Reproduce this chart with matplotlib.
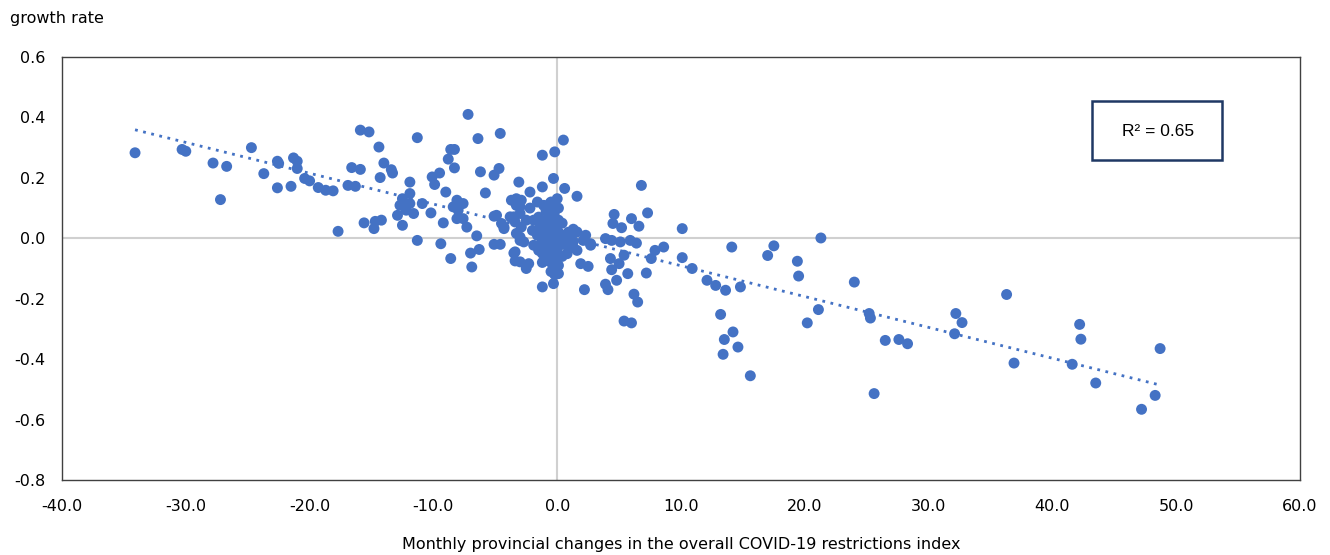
import numpy as np
import matplotlib
matplotlib.use('Agg')
import matplotlib.pyplot as plt
from matplotlib.patches import Rectangle

# monthly provincial changes in restrictions index (x) and growth rate (y)
x_vals = [
    -34.1, -30.3, -30.0, -27.8, -26.7, -27.2, -24.7, -23.7, -22.6, -22.5,
    -22.6, -21.5, -21.3, -21.0, -21.0, -20.4, -20.0, -19.3, -18.7, -18.1,
    -17.7, -16.9, -16.6, -16.3, -15.9, -15.9, -15.2, -14.4, -14.3, -14.0,
    -13.4, -13.3, -15.6, -14.7, -14.2, -14.8, -11.3, -11.9, -11.9, -12.5,
    -12.7, -11.6, -11.9, -12.2, -10.9, -10.2, -12.9, -12.5, -11.3, -9.4,
    -8.6, -7.2, -6.4, -4.6, -8.6, -8.3, -8.8, -8.3, -10.1, -9.5,
    -9.9, -9.0, -8.1, -7.6, -8.4, -8.0, -8.1, -7.6, -7.3, -9.2,
    -6.5, -7.0, -6.3, -6.9, -6.2, -5.1, -4.7, -5.8, -5.1, -4.9,
    -4.3, -5.1, -4.6, -3.7, -3.3, -3.0, -3.1, -2.2, -1.2, -0.2,
    -0.3, -1.2, -3.8, -3.4, -2.9, -3.3, -3.5, -3.4, -2.3, -1.2,
    0.5, 0.6, 1.6, 6.8, 4.6, 6.0, 6.6, 4.5, 5.2, 7.3,
    10.1, 3.9, 4.4, 5.1, 5.9, 6.4, 2.7, 2.1, 7.9, 8.6,
    7.6, 10.1, 10.9, 5.4, 4.3, 5.0, 4.4, 4.8, 5.7, 7.2,
    1.9, 2.5, 3.9, 4.1, 2.2, 6.2, 6.5, 12.1, 12.8, 13.6,
    14.8, 14.1, 13.2, 14.2, 13.5, 14.6, 13.4, 17.5, 17.0, 21.3,
    19.4, 19.5, 21.1, 20.2, 5.4, 6.0, 24.0, 25.2, 25.3, 26.5,
    27.6, 28.3, 25.6, 32.2, 32.7, 32.1, 36.3, 36.9, 41.6, 42.2,
    42.3, 43.5, 48.7, 48.3, 47.2, 15.6,
    -3.3, -2.9, -1.6, -1.1, -0.6, 0.0, -3.5, -3.0, -2.5, -4.5,
    -4.3, -2.0, -1.6, -1.4, -3.0, -2.7, -1.9, 1.1, 1.6, 2.3,
    2.7, 0.8, -3.0, -0.8, 0.8, 1.6, -3.4, -3.0, -2.5, -0.8,
    -0.3, 0.1, -0.3, 0.0, 0.8, -2.2, -1.9,
    -0.2, -0.2, -0.2, -0.2, -0.2, -0.2, -0.2, -0.2, -0.2, -0.2,
    -0.2, -0.2, -0.9, -0.9, -0.9, -0.9, -0.9, -0.9, -1.5, -1.5,
    -1.5, 0.4, 0.4, 0.4, 0.4, 1.3, 1.3, 1.3,
    -0.5, -0.5, -0.5, -0.5, -0.5, -0.5, -0.5, -0.5, 0.1, 0.1,
    0.1, 0.1, 0.1, 0.1, -1.2, -1.2, -1.2, -1.2, 0.9, 0.9,
]
y_vals = [
    0.283, 0.294, 0.288, 0.249, 0.238, 0.128, 0.300, 0.214, 0.255, 0.248,
    0.167, 0.172, 0.266, 0.255, 0.231, 0.198, 0.190, 0.168, 0.159, 0.157,
    0.023, 0.175, 0.234, 0.172, 0.228, 0.358, 0.352, 0.302, 0.201, 0.249,
    0.227, 0.216, 0.051, 0.056, 0.060, 0.032, 0.333, 0.186, 0.148, 0.131,
    0.109, 0.082, 0.115, 0.093, 0.115, 0.084, 0.076, 0.043, -0.007, -0.018,
    -0.067, 0.410, 0.330, 0.347, 0.294, 0.294, 0.262, 0.233, 0.203, 0.216,
    0.178, 0.153, 0.126, 0.115, 0.104, 0.093, 0.065, 0.065, 0.037, 0.051,
    0.008, -0.049, -0.037, -0.095, 0.220, 0.209, 0.231, 0.150, 0.073, 0.076,
    0.037, -0.020, -0.020, 0.126, 0.131, 0.104, 0.186, 0.153, 0.275, 0.286,
    0.198, 0.170, 0.071, 0.054, 0.037, 0.016, -0.049, -0.075, -0.084, -0.161,
    0.325, 0.165, 0.139, 0.175, 0.079, 0.065, 0.040, 0.049, 0.035, 0.084,
    0.032, -0.001, -0.007, -0.012, -0.007, -0.016, -0.023, -0.007, -0.040, -0.029,
    -0.067, -0.064, -0.100, -0.056, -0.067, -0.084, -0.104, -0.139, -0.117, -0.115,
    -0.084, -0.093, -0.152, -0.170, -0.170, -0.185, -0.211, -0.139, -0.156, -0.172,
    -0.161, -0.029, -0.252, -0.310, -0.335, -0.360, -0.384, -0.025, -0.057, 0.001,
    -0.076, -0.125, -0.236, -0.280, -0.274, -0.280, -0.145, -0.249, -0.264, -0.338,
    -0.335, -0.349, -0.514, -0.249, -0.279, -0.316, -0.186, -0.413, -0.417, -0.285,
    -0.334, -0.479, -0.365, -0.520, -0.566, -0.455,
    0.109, 0.126, 0.120, 0.109, 0.115, 0.131, 0.071, 0.082, 0.060, 0.049,
    0.032, 0.026, 0.010, 0.037, 0.004, -0.012, -0.023, 0.016, 0.021, 0.010,
    -0.018, -0.007, -0.007, -0.007, -0.012, -0.040, -0.045, -0.078, -0.100, -0.073,
    -0.089, -0.117, -0.150, -0.040, -0.051, 0.100, 0.060,
    0.11, 0.09, 0.07, 0.05, 0.03, 0.01, -0.01, -0.03, -0.05, -0.07,
    -0.10, -0.12, 0.09, 0.06, 0.03, 0.0, -0.03, -0.06, 0.07, 0.02,
    -0.04, 0.05, 0.01, -0.02, -0.06, 0.03, -0.01, -0.03,
    0.12, 0.10, 0.08, 0.04, 0.00, -0.04, -0.08, -0.11, 0.10, 0.06,
    0.02, -0.02, -0.06, -0.09, 0.05, -0.01, -0.05, -0.08, 0.02, -0.03,
]

x_ticks = [-40, -30, -20, -10, 0, 10, 20, 30, 40, 50, 60]
y_ticks = [-0.8, -0.6, -0.4, -0.2, 0.0, 0.2, 0.4, 0.6]

blue = '#4472C4'

fig = plt.figure(figsize=(13.3, 5.55), dpi=100)
ax = fig.add_axes([62 / 1330, 75 / 555, 1238 / 1330, 423 / 555])

x = np.array(x_vals)
y = np.array(y_vals)

# zero lines
ax.axhline(0, color='#D0D0D0', lw=1.5, zorder=1)
ax.axvline(0, color='#D0D0D0', lw=1.5, zorder=1)

ax.scatter(x, y, s=62, color=blue, edgecolors='none', zorder=3)

# linear trend line
slope, intercept = np.polyfit(x, y, 1)
xs = np.array([x.min(), x.max()])
ax.plot(xs, slope * xs + intercept, color=blue, lw=2, ls=(0, (1, 2)), zorder=2)

ax.set_xlim(-40, 60)
ax.set_ylim(-0.8, 0.6)
ax.set_xticks(x_ticks)
ax.set_yticks(y_ticks)
ax.set_xticklabels([f'{v:.1f}' for v in x_ticks])
ax.set_yticklabels([f'{v:.1f}' for v in y_ticks])
ax.tick_params(length=0, labelsize=11.5, colors='#000000')
ax.tick_params(axis='y', pad=12)
ax.tick_params(axis='x', pad=14)
for sp in ax.spines.values():
    sp.set_color('#404040')
    sp.set_linewidth(1)

ax.set_xlabel('Monthly provincial changes in the overall COVID-19 restrictions index',
              fontsize=11.5, labelpad=16)
fig.text(10 / 1330, 1 - 18 / 555, 'growth rate', fontsize=11.5, va='center', ha='left')

# R-squared box
ax.add_patch(Rectangle((1092 / 1330, 1 - 160 / 555), 130 / 1330, 59 / 555,
                       transform=fig.transFigure, fill=False,
                       edgecolor='#1F3864', lw=1.8, zorder=5))
fig.text(1158 / 1330, 1 - 131 / 555, 'R² = 0.65', fontsize=12.5,
         family='Liberation Sans', ha='center', va='center')

fig.savefig('out.png', dpi=100)
